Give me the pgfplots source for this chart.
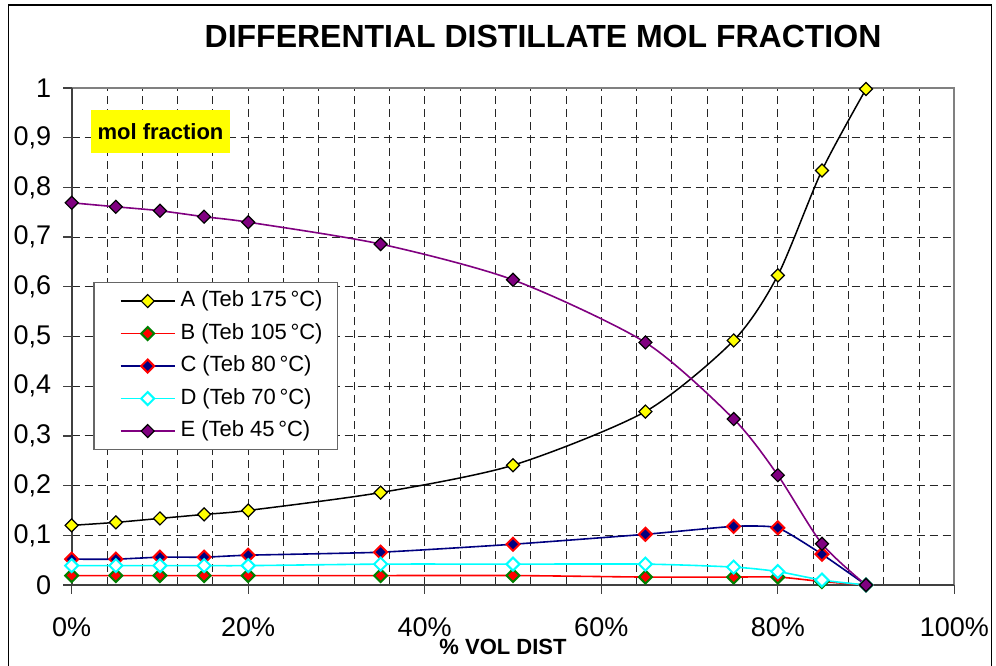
\documentclass[border=0pt]{standalone}
\usepackage{fontspec}
\setmainfont{Liberation Sans}
\usepackage{pgfplots}
\usepackage{pgfplotstable}
\pgfplotsset{compat=1.18}

% x = % volume distilled, mol fractions of the five components
\pgfplotstableread{
x  A     B     C     D     E
0  0.120 0.019 0.052 0.039 0.769
5  0.126 0.019 0.052 0.039 0.761
10 0.134 0.019 0.056 0.039 0.753
15 0.142 0.019 0.056 0.039 0.741
20 0.150 0.019 0.060 0.039 0.730
35 0.186 0.019 0.066 0.042 0.686
50 0.241 0.019 0.082 0.042 0.614
65 0.349 0.016 0.102 0.042 0.488
75 0.492 0.016 0.118 0.036 0.334
80 0.623 0.016 0.115 0.027 0.221
85 0.834 0.007 0.062 0.010 0.083
90 0.998 0.000 0.000 0.000 0.000
}\data

\definecolor{cnavy}{RGB}{0,0,128}
\definecolor{cpurple}{RGB}{128,0,128}
\definecolor{cgreen}{RGB}{0,128,0}
\definecolor{ccyan}{RGB}{0,255,255}
\definecolor{cred}{RGB}{255,0,0}
\definecolor{cyellow}{RGB}{255,255,0}

\begin{document}
\begin{tikzpicture}
\useasboundingbox (0pt,0pt) rectangle (498pt,332.5pt);
\draw[black, line width=0.6pt] (4.15pt,-2pt) -- (4.15pt,330pt) -- (495.85pt,330pt) -- (495.85pt,-2pt);
\node[font=\bfseries\fontsize{16}{19}\selectfont, anchor=base] at (271.5pt,308.9pt) {DIFFERENTIAL DISTILLATE MOL FRACTION};

\begin{axis}[
  at={(35.85pt,40pt)}, anchor=south west,
  scale only axis, width=441.3pt, height=248.5pt,
  xmin=0, xmax=100, ymin=0, ymax=1,
  clip=false,
  axis line style={draw=none},
  xtick={0,20,40,60,80,100},
  xticklabels={0\%,20\%,40\%,60\%,80\%,100\%},
  minor x tick num=4,
  ytick={0,0.1,0.2,0.3,0.4,0.5,0.6,0.7,0.8,0.9,1},
  yticklabels={0,{0,1},{0,2},{0,3},{0,4},{0,5},{0,6},{0,7},{0,8},{0,9},1},
  tick pos=left, tick align=outside,
  major tick length=4.3pt, minor tick length=0pt,
  tick style={black!75, line width=0.6pt},
  ticklabel style={font=\fontsize{13.5}{16}\selectfont},
  xticklabel style={yshift=-8.5pt},
  yticklabel style={xshift=-2.5pt},
  grid=both,
  major grid style={black!85, line width=0.45pt, dash pattern=on 4pt off 2.5pt},
  minor grid style={black!85, line width=0.45pt, dash pattern=on 4pt off 2.5pt},
  legend style={at={(0.02447,0.6097)}, anchor=north west,
    draw=black!60, line width=0.6pt, fill=white,
    font=\fontsize{11}{13}\selectfont,
    inner xsep=7pt, inner ysep=2pt, row sep=1.75pt,
    nodes={inner xsep=0.5pt, inner ysep=2pt, text height=8pt, text depth=2.5pt}},
  legend cell align=left,
  legend image code/.code={
    \path (-6pt,0pt) (29pt,0pt);
    \draw[#1, mark repeat=2, mark phase=2] plot coordinates {(0pt,0pt) (13.5pt,0pt) (27pt,0pt)};},
  every axis plot/.append style={smooth, tension=0.45, mark=square*, mark size=2.3pt},
]
\draw[gray, line width=0.9pt] (rel axis cs:0,1) -- (rel axis cs:1,1) -- (rel axis cs:1,0);
\draw[black!75, line width=0.8pt] (rel axis cs:0,1) -- (rel axis cs:0,0) -- (rel axis cs:1,0);

\addplot[black, line width=0.75pt, mark options={rotate=45, fill=cyellow, draw=black, line width=0.6pt}]
  table[x=x, y=A] {\data};
\addlegendentry{A (Teb 175\,°C)}
\addplot[cred, line width=0.8pt, mark options={rotate=45, fill=cred, draw=cgreen, line width=1pt}]
  table[x=x, y=B] {\data};
\addlegendentry{B (Teb 105\,°C)}
\addplot[cnavy, line width=0.8pt, tension=0.3, mark options={rotate=45, fill=cnavy, draw=cred, line width=1pt}]
  table[x=x, y=C] {\data};
\addlegendentry{C (Teb 80\,°C)}
\addplot[ccyan, line width=0.8pt, mark options={rotate=45, fill=white, draw=ccyan, line width=1pt}]
  table[x=x, y=D] {\data};
\addlegendentry{D (Teb 70\,°C)}
\addplot[cpurple, line width=0.8pt, mark options={rotate=45, fill=cpurple, draw=black, line width=0.6pt}]
  table[x=x, y=E] {\data};
\addlegendentry{E (Teb 45\,°C)}
\end{axis}

\node[fill=cyellow, minimum width=69.5pt, minimum height=21.35pt, inner sep=0pt,
  font=\bfseries\fontsize{11}{13}\selectfont] at (80.25pt,266.8pt) {mol fraction};
\node[font=\bfseries\fontsize{11}{13}\selectfont, anchor=base] at (251.5pt,5.5pt) {\% VOL DIST};
\end{tikzpicture}
\end{document}
